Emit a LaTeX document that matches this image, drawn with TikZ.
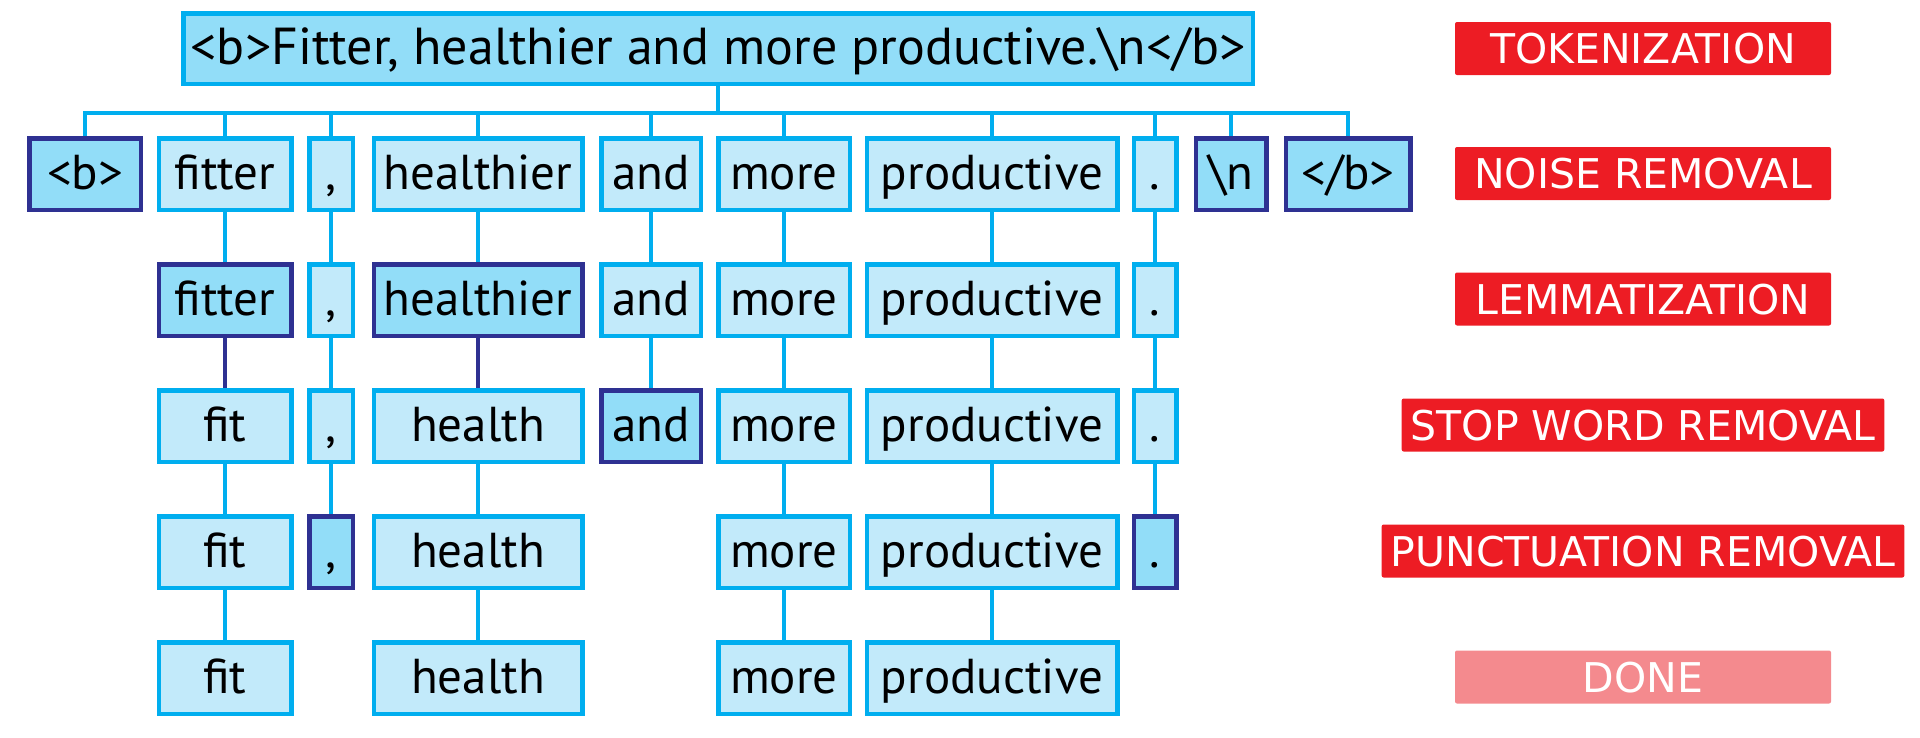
\documentclass[tikz,border=0pt]{standalone}
\usepackage{fontspec}
\setmainfont{PT Sans}
\newfontfamily\labfont{DejaVu Sans}
\definecolor{cyanB}{HTML}{00AEEF}
\definecolor{lightF}{HTML}{C2EAFA}
\definecolor{darkF}{HTML}{92DDF8}
\definecolor{navyB}{HTML}{2E3192}
\definecolor{redL}{HTML}{ED1C24}
\definecolor{pinkL}{HTML}{F48A8E}
\begin{document}
\begin{tikzpicture}[x=1pt,y=-1pt,
 tok/.style={draw=cyanB, fill=lightF, line width=4.5pt, inner sep=0pt, minimum height=71.5pt, text height=37pt, text depth=6pt, font=\fontsize{49}{57}\selectfont, text=black},
 sel/.style={tok, draw=navyB, fill=darkF},
 conn/.style={draw=cyanB, line width=4.5pt},
 dconn/.style={draw=navyB, line width=4.5pt},
 stage/.style={fill=redL, rounded corners=2pt, text=white, font=\labfont\fontsize{41}{49}\selectfont, minimum height=53pt, minimum width=376pt, inner xsep=9pt, inner ysep=0pt, text height=30pt, text depth=0pt},
 cola/.style={minimum width=111.5pt},
 colb/.style={minimum width=132.5pt},
 colc/.style={minimum width=43.5pt},
 cold/.style={minimum width=208.5pt},
 cole/.style={minimum width=99.5pt},
 colf/.style={minimum width=131.5pt},
 colg/.style={minimum width=250.5pt},
 colh/.style={minimum width=42.5pt},
 coli/.style={minimum width=70.5pt},
 colj/.style={minimum width=124.5pt},
]
\useasboundingbox (0,0) rectangle (1920,737);

% top sentence
\node[tok, fill=darkF, minimum width=1069.5pt, minimum height=70.5pt, font=\fontsize{52}{60}\selectfont] (top) at (718,48.5) {<b>Fitter, healthier and more productive.\textbackslash n</b>};

% row 1
\node[sel, cola] (r1a) at (85,174) {<b>};
\node[tok, colb] (r1b) at (225,174) {fitter};
\node[tok, colc] (r1c) at (331,174) {,};
\node[tok, cold] (r1d) at (478,174) {healthier};
\node[tok, cole] (r1e) at (651,174) {and};
\node[tok, colf] (r1f) at (784,174) {more};
\node[tok, colg] (r1g) at (992,174) {productive};
\node[tok, colh] (r1h) at (1155,174) {.};
\node[sel, coli] (r1i) at (1231,174) {\textbackslash n};
\node[sel, colj] (r1j) at (1348,174) {</b>};

% row 2
\node[sel, colb] (r2b) at (225,300) {fitter};
\node[tok, colc] (r2c) at (331,300) {,};
\node[sel, cold] (r2d) at (478,300) {healthier};
\node[tok, cole] (r2e) at (651,300) {and};
\node[tok, colf] (r2f) at (784,300) {more};
\node[tok, colg] (r2g) at (992,300) {productive};
\node[tok, colh] (r2h) at (1155,300) {.};

% row 3
\node[tok, colb] (r3b) at (225,426) {fit};
\node[tok, colc] (r3c) at (331,426) {,};
\node[tok, cold] (r3d) at (478,426) {health};
\node[sel, cole] (r3e) at (651,426) {and};
\node[tok, colf] (r3f) at (784,426) {more};
\node[tok, colg] (r3g) at (992,426) {productive};
\node[tok, colh] (r3h) at (1155,426) {.};

% row 4
\node[tok, colb] (r4b) at (225,552) {fit};
\node[sel, colc] (r4c) at (331,552) {,};
\node[tok, cold] (r4d) at (478,552) {health};
\node[tok, colf] (r4f) at (784,552) {more};
\node[tok, colg] (r4g) at (992,552) {productive};
\node[sel, colh] (r4h) at (1155,552) {.};

% row 5
\node[tok, colb] (r5b) at (225,678) {fit};
\node[tok, cold] (r5d) at (478,678) {health};
\node[tok, colf] (r5f) at (784,678) {more};
\node[tok, colg] (r5g) at (992,678) {productive};

% bus
\coordinate (busL) at (85,113);
\draw[conn] (r1a.north) -- (r1a.north |- busL) -- (r1j.north |- busL) -- (r1j.north);
\draw[conn] (top.south) -- (top.south |- busL);
\foreach \c in {b,c,d,e,f,g,h,i}
  \draw[conn] (r1\c.north) -- (r1\c.north |- busL);

% connectors between rows
\foreach \c in {b,c,d,e,f,g,h}
  \draw[conn] (r1\c.south) -- (r2\c.north);
\foreach \c in {c,e,f,g,h}
  \draw[conn] (r2\c.south) -- (r3\c.north);
\foreach \c in {b,d}
  \draw[dconn] (r2\c.south) -- (r3\c.north);
\foreach \c in {b,c,d,f,g,h}
  \draw[conn] (r3\c.south) -- (r4\c.north);
\foreach \c in {b,d,f,g}
  \draw[conn] (r4\c.south) -- (r5\c.north);

% stage labels
\node[stage] (s1) at (1643,48.5) {TOKENIZATION};
\node[stage] (s2) at (1643,173.5) {NOISE REMOVAL};
\node[stage] (s3) at (1643,299) {LEMMATIZATION};
\node[stage] (s4) at (1643,425) {STOP WORD REMOVAL};
\node[stage] (s5) at (1643,551) {PUNCTUATION REMOVAL};
\node[stage, fill=pinkL] (s6) at (1643,677) {DONE};
\end{tikzpicture}
\end{document}
